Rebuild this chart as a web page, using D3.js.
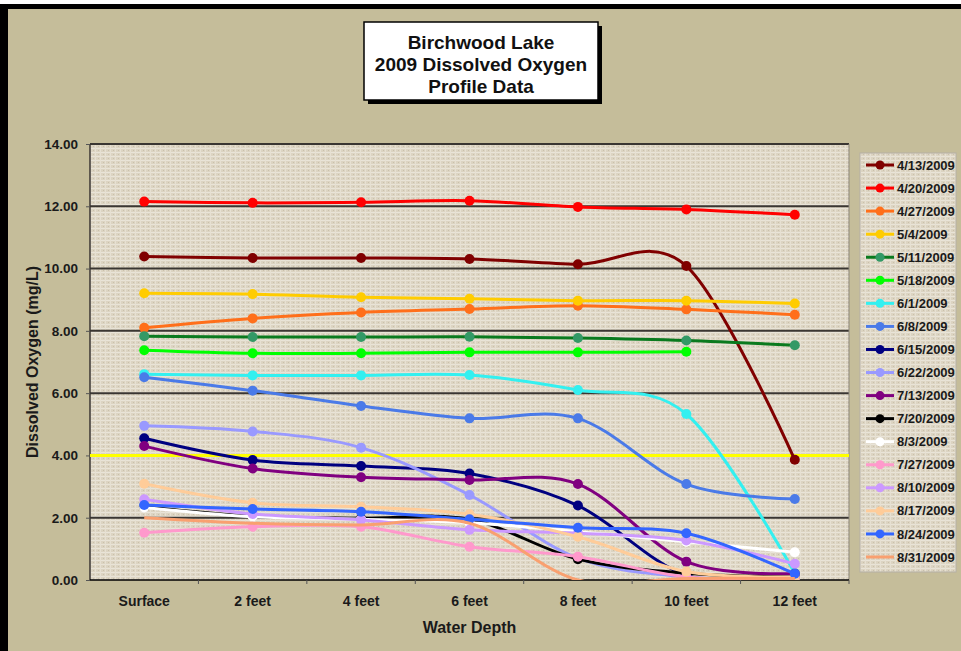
<!DOCTYPE html>
<html><head><meta charset="utf-8">
<script src="https://cdn.jsdelivr.net/npm/d3@7"></script>
<style>html,body{margin:0;padding:0;background:#fff;}svg{display:block;}</style>
</head><body>
<script>
const categories = ["Surface","2 feet","4 feet","6 feet","8 feet","10 feet","12 feet"];
const yTicks = [0,2,4,6,8,10,12,14];
const seriesNames = ["4/13/2009","4/20/2009","4/27/2009","5/4/2009","5/11/2009","5/18/2009","6/1/2009","6/8/2009","6/15/2009","6/22/2009","7/13/2009","7/20/2009","8/3/2009","7/27/2009","8/10/2009","8/17/2009","8/24/2009","8/31/2009"];
const s0413 = [10.39,10.34,10.34,10.31,10.14,10.08,3.86];
const s0420 = [12.15,12.11,12.13,12.18,11.98,11.90,11.73];
const s0427 = [8.10,8.40,8.59,8.70,8.81,8.69,8.52];
const s0504 = [9.21,9.18,9.08,9.03,8.97,8.97,8.88];
const s0511 = [7.83,7.80,7.80,7.81,7.77,7.69,7.54];
const s0518 = [7.38,7.28,7.28,7.31,7.31,7.33,null];
const s0601 = [6.61,6.57,6.57,6.58,6.10,5.33,0.22];
const s0608 = [6.51,6.08,5.59,5.19,5.19,3.08,2.60];
const s0615 = [4.55,3.85,3.66,3.42,2.39,0.15,0.10];
const s0622 = [4.95,4.77,4.25,2.73,0.70,0.10,0.05];
const s0713 = [4.30,3.58,3.30,3.21,3.08,0.59,0.21];
const s0720 = [2.35,2.05,1.98,1.95,0.67,0.22,0.10];
const s0803 = [2.33,2.03,1.95,1.84,1.55,1.23,0.89];
const s0727 = [1.52,1.71,1.71,1.07,0.75,0.10,0.05];
const s0810 = [2.59,2.12,1.93,1.61,1.50,1.27,0.52];
const s0817 = [3.09,2.48,2.35,2.11,1.39,0.27,0.10];
const s0824 = [2.41,2.28,2.19,1.95,1.68,1.50,0.20];
const s0831 = [2.00,1.82,1.77,1.82,0.00,0.05,0.05];
const thresholdValue = 4;

const seriesValues = [s0413,s0420,s0427,s0504,s0511,s0518,s0601,s0608,s0615,s0622,s0713,s0720,s0803,s0727,s0810,s0817,s0824,s0831];
const lineColors = ["#800000","#ff0000","#ff6f1a","#ffcc00","#0a7a1e","#00ff00","#33f0f0","#4a7ae8","#000080","#9999ff","#800080","#000000","#ffffff","#ff99cc","#cc99ff","#ffcc99","#3366ff","#f9a070"];
const markerColors = ["#800000","#ff0000","#ff6f1a","#ffcc00","#339966","#00ff00","#33f0f0","#4a7ae8","#000080","#9999ff","#800080","#000000","#ffffff","#ff99cc","#cc99ff","#ffcc99","#3366ff",null];

const W = 961, H = 651;
const svg = d3.select("body").append("svg").attr("width", W).attr("height", H);
const defs = svg.append("defs");
const pat = defs.append("pattern").attr("id","linen").attr("patternUnits","userSpaceOnUse").attr("width",5).attr("height",4);
pat.append("rect").attr("width",5).attr("height",4).attr("fill","#dcd4c2");
pat.append("rect").attr("x",0).attr("y",0).attr("width",5).attr("height",1).attr("fill","#e9e4d8");
pat.append("rect").attr("x",0).attr("y",0).attr("width",1).attr("height",4).attr("fill","#e6e0d2");
pat.append("rect").attr("x",3).attr("y",2).attr("width",1).attr("height",1).attr("fill","#c9c0ab");

// page background + border
svg.append("rect").attr("width",W).attr("height",H).attr("fill","#c5bd9a");
svg.append("rect").attr("x",0).attr("y",0).attr("width",W).attr("height",4).attr("fill","#ffffff");
svg.append("rect").attr("x",0).attr("y",4).attr("width",W).attr("height",5).attr("fill","#000");
svg.append("rect").attr("x",0).attr("y",4).attr("width",8).attr("height",H-4).attr("fill","#000");

const L = 90, R = 849, T = 144, B = 580;
const x = d3.scaleBand().domain(categories).range([L, R]);
const cx = c => x(c) + x.bandwidth()/2;
const y = d3.scaleLinear().domain([0,14]).range([B, T]);

// plot area
svg.append("rect").attr("x",L).attr("y",T).attr("width",R-L).attr("height",B-T).attr("fill","url(#linen)");
defs.append("clipPath").attr("id","clip").append("rect").attr("x",L).attr("y",T-6).attr("width",R-L).attr("height",B-T+6);

// gridlines
svg.append("g").selectAll("line").data(yTicks.filter(v=>v>0)).join("line")
  .attr("x1",L).attr("x2",R).attr("y1",d=>y(d)).attr("y2",d=>y(d))
  .attr("stroke","#3a3632").attr("stroke-width",2);
svg.append("line").attr("x1",R).attr("x2",R).attr("y1",T).attr("y2",B).attr("stroke","#8c877c").attr("stroke-width",1);
svg.append("line").attr("x1",L).attr("x2",L).attr("y1",T).attr("y2",B).attr("stroke","#3a3632").attr("stroke-width",1.5);

// y axis
const yAxis = d3.axisLeft(y).tickValues(yTicks).tickFormat(d3.format(".2f")).tickSize(4).tickPadding(8);
const gy = svg.append("g").attr("transform",`translate(${L},0)`).call(yAxis);
gy.select(".domain").remove();
gy.selectAll(".tick line").attr("stroke","#555");
gy.selectAll("text").attr("font-family","Liberation Sans, Arial, sans-serif").attr("font-weight","bold").attr("font-size","13.5px").attr("fill","#1a1a1a");

// x axis
const xAxis = d3.axisBottom(x).tickSize(0).tickPadding(16);
const gx = svg.append("g").attr("transform",`translate(0,${B})`).call(xAxis);
gx.select(".domain").remove();
gx.selectAll("text").attr("font-family","Liberation Sans, Arial, sans-serif").attr("font-weight","bold").attr("font-size","14px").attr("fill","#1a1a1a");
svg.append("line").attr("x1",L).attr("x2",R).attr("y1",B).attr("y2",B).attr("stroke","#000").attr("stroke-width",1.5);
svg.append("g").selectAll("line").data(categories.slice(1).concat(["__end"])).join("line")
  .attr("x1",(d,i)=> L + x.bandwidth()*(i+1)).attr("x2",(d,i)=> L + x.bandwidth()*(i+1))
  .attr("y1",B).attr("y2",B+4).attr("stroke","#555");

// threshold line
svg.append("line").attr("x1",L).attr("x2",R).attr("y1",y(thresholdValue)).attr("y2",y(thresholdValue))
  .attr("stroke","#ffff00").attr("stroke-width",3);

// series
const line = d3.line().defined(d=>d.v!=null).x(d=>cx(d.c)).y(d=>y(d.v)).curve(d3.curveCardinal.tension(0));
const plot = svg.append("g").attr("clip-path","url(#clip)");
seriesValues.forEach((vals,i)=>{
  const pts = vals.map((v,j)=>({c:categories[j], v}));
  const g = plot.append("g");
  g.append("path").attr("d",line(pts)).attr("fill","none").attr("stroke",lineColors[i]).attr("stroke-width",3).attr("stroke-linejoin","round");
  if (markerColors[i]) {
    g.selectAll("circle").data(pts.filter(p=>p.v!=null)).join("circle")
      .attr("cx",p=>cx(p.c)).attr("cy",p=>y(p.v)).attr("r",5).attr("fill",markerColors[i]);
  }
});

// axis titles
svg.append("text").attr("transform",`translate(38,${(T+B)/2}) rotate(-90)`).attr("text-anchor","middle")
  .attr("font-family","Liberation Sans, Arial, sans-serif").attr("font-size","16px").attr("fill","#1a1a1a").attr("font-weight","bold")
  .text("Dissolved Oxygen (mg/L)");
svg.append("text").attr("x",(L+R)/2).attr("y",633).attr("text-anchor","middle")
  .attr("font-family","Liberation Sans, Arial, sans-serif").attr("font-size","16px").attr("font-weight","bold").attr("fill","#1a1a1a")
  .text("Water Depth");

// title box
const tb = {x:364, y:22, w:234, h:78};
svg.append("rect").attr("x",tb.x+4).attr("y",tb.y+4).attr("width",tb.w).attr("height",tb.h).attr("fill","#000");
svg.append("rect").attr("x",tb.x).attr("y",tb.y).attr("width",tb.w).attr("height",tb.h).attr("fill","#fff").attr("stroke","#000").attr("stroke-width",1.5);
const titleLines = ["Birchwood Lake","2009 Dissolved Oxygen","Profile Data"];
svg.append("g").selectAll("text").data(titleLines).join("text")
  .attr("x",tb.x+tb.w/2).attr("y",(d,i)=>tb.y+27+i*22).attr("text-anchor","middle")
  .attr("font-family","Liberation Sans, Arial, sans-serif").attr("font-weight","bold").attr("font-size","19px").attr("fill","#111")
  .text(d=>d);

// legend
const lg = {x:860, y:153, w:96, h:419};
svg.append("rect").attr("x",lg.x).attr("y",lg.y).attr("width",lg.w).attr("height",lg.h).attr("fill","url(#linen)").attr("stroke","#b5b0a5").attr("stroke-width",1);
const ly = d3.scalePoint().domain(seriesNames).range([lg.y+12, lg.y+lg.h-15]);
const items = svg.append("g").selectAll("g").data(seriesNames).join("g").attr("transform",d=>`translate(${lg.x},${ly(d)})`);
items.append("line").attr("x1",6).attr("x2",34).attr("stroke",(d,i)=>lineColors[i]).attr("stroke-width",3);
items.filter((d,i)=>markerColors[i]).append("circle").attr("cx",20).attr("r",4.5).attr("fill",d=>markerColors[seriesNames.indexOf(d)]);
items.append("text").attr("x",37).attr("dy","0.35em").attr("font-family","Liberation Sans, Arial, sans-serif").attr("font-weight","bold").attr("font-size","13px").attr("fill","#1a1a1a").text(d=>d);
</script>
</body></html>
